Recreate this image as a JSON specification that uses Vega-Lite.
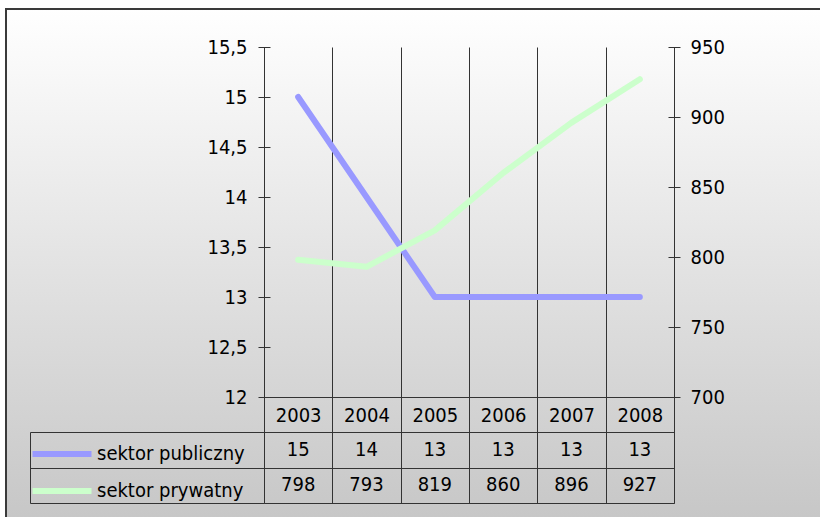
{
  "$schema": "https://vega.github.io/schema/vega-lite/v6.json",
  "width": 815,
  "height": 508,
  "autosize": {"type": "none"},
  "padding": {"left": 6, "top": 9, "right": 0, "bottom": 0},
  "background": "#ffffff",
  "view": {
    "fill": {"gradient": "linear", "x1": 0, "y1": 0, "x2": 0, "y2": 1, "stops": [{"offset": 0, "color": "#ffffff"}, {"offset": 1, "color": "#c7c7c7"}]},
    "stroke": "#3a3a3a",
    "strokeWidth": 2,
    "strokeDash": [815, 1323, 508]
  },
  "config": {
    "font": "DejaVu Sans Condensed, Liberation Sans, sans-serif",
    "axis": {
      "labelFont": "DejaVu Sans Condensed, Liberation Sans, sans-serif",
      "labelFontSize": 20,
      "labelColor": "#000000",
      "tickColor": "#333333",
      "domainColor": "#333333",
      "gridColor": "#333333",
      "gridOpacity": 1,
      "tickWidth": 1,
      "domainWidth": 1,
      "gridWidth": 1
    },
    "legend": {
      "labelFont": "DejaVu Sans Condensed, Liberation Sans, sans-serif"
    }
  },
  "data": {
    "values": [
      {"rok": "2003", "sektor": "sektor publiczny", "wartosc": 15},
      {"rok": "2004", "sektor": "sektor publiczny", "wartosc": 14},
      {"rok": "2005", "sektor": "sektor publiczny", "wartosc": 13},
      {"rok": "2006", "sektor": "sektor publiczny", "wartosc": 13},
      {"rok": "2007", "sektor": "sektor publiczny", "wartosc": 13},
      {"rok": "2008", "sektor": "sektor publiczny", "wartosc": 13},
      {"rok": "2003", "sektor": "sektor prywatny", "wartosc": 798},
      {"rok": "2004", "sektor": "sektor prywatny", "wartosc": 793},
      {"rok": "2005", "sektor": "sektor prywatny", "wartosc": 819},
      {"rok": "2006", "sektor": "sektor prywatny", "wartosc": 860},
      {"rok": "2007", "sektor": "sektor prywatny", "wartosc": 896},
      {"rok": "2008", "sektor": "sektor prywatny", "wartosc": 927}
    ]
  },
  "encoding": {
    "x": {
      "field": "rok",
      "type": "ordinal",
      "scale": {"type": "band", "range": [258, 668], "paddingInner": 0, "paddingOuter": 0},
      "axis": {
        "orient": "bottom",
        "offset": -14,
        "title": null,
        "domain": true,
        "ticks": true,
        "tickBand": "extent",
        "tickSize": -456,
        "labelPadding": 368,
        "labelBaseline": "middle",
        "labelAngle": 0,
        "grid": false
      }
    }
  },
  "layer": [
    {
      "transform": [{"filter": "datum.sektor === 'sektor publiczny'"}],
      "mark": {"type": "line", "strokeWidth": 6, "strokeCap": "round", "strokeJoin": "round"},
      "encoding": {
        "y": {
          "field": "wartosc",
          "type": "quantitative",
          "scale": {"domain": [12, 15.5], "range": [388, 38], "zero": false, "nice": false},
          "axis": {
            "orient": "left",
            "offset": -264,
            "title": null,
            "domain": false,
            "values": [12, 12.5, 13, 13.5, 14, 14.5, 15, 15.5],
            "tickSize": 12,
            "labelPadding": 11,
            "labelExpr": "replace(toString(datum.value), '.', ',')",
            "grid": true,
            "gridColor": {"condition": {"test": "datum.value === 12", "value": "#333333"}, "value": "transparent"}
          }
        },
        "color": {
          "field": "sektor",
          "type": "nominal",
          "scale": {"domain": ["sektor publiczny", "sektor prywatny"], "range": ["#9999ff", "#ccffcc"]},
          "legend": {
            "orient": "none",
            "legendX": 43,
            "legendY": 432,
            "title": null,
            "symbolType": "M-2.95,0H2.95",
            "symbolSize": 400,
            "symbolStrokeWidth": 6,
            "symbolFillColor": "transparent",
            "labelFontSize": 20,
            "labelColor": "#000000",
            "labelOffset": 22,
            "labelLimit": 400,
            "rowPadding": 12,
            "padding": 0
          }
        }
      }
    },
    {
      "transform": [{"filter": "datum.sektor === 'sektor prywatny'"}],
      "mark": {"type": "line", "strokeWidth": 6, "strokeCap": "round", "strokeJoin": "round"},
      "encoding": {
        "y": {
          "field": "wartosc",
          "type": "quantitative",
          "scale": {"domain": [700, 950], "range": [388, 38], "zero": false, "nice": false},
          "axis": {
            "orient": "right",
            "offset": -153,
            "title": null,
            "domain": false,
            "values": [700, 750, 800, 850, 900, 950],
            "tickSize": 12,
            "labelPadding": 10,
            "grid": false
          }
        },
        "color": {
          "field": "sektor",
          "type": "nominal",
          "scale": {"domain": ["sektor publiczny", "sektor prywatny"], "range": ["#9999ff", "#ccffcc"]},
          "legend": {
            "orient": "none",
            "legendX": 43,
            "legendY": 432,
            "title": null,
            "symbolType": "M-2.95,0H2.95",
            "symbolSize": 400,
            "symbolStrokeWidth": 6,
            "symbolFillColor": "transparent",
            "labelFontSize": 20,
            "labelColor": "#000000",
            "labelOffset": 22,
            "labelLimit": 400,
            "rowPadding": 12,
            "padding": 0
          }
        }
      }
    },
    {
      "mark": {"type": "text", "fontSize": 20, "color": "#000000", "align": "center", "baseline": "middle"},
      "encoding": {
        "y": {
          "field": "sektor",
          "type": "nominal",
          "scale": {"type": "band", "domain": ["sektor publiczny", "sektor prywatny"], "range": [423, 494], "paddingInner": 0, "paddingOuter": 0},
          "axis": {
            "orient": "left",
            "offset": -24,
            "title": null,
            "domain": true,
            "tickBand": "extent",
            "tickSize": -234,
            "labels": false,
            "grid": true
          }
        },
        "text": {"field": "wartosc", "type": "quantitative"}
      }
    }
  ],
  "resolve": {"scale": {"y": "independent"}}
}
